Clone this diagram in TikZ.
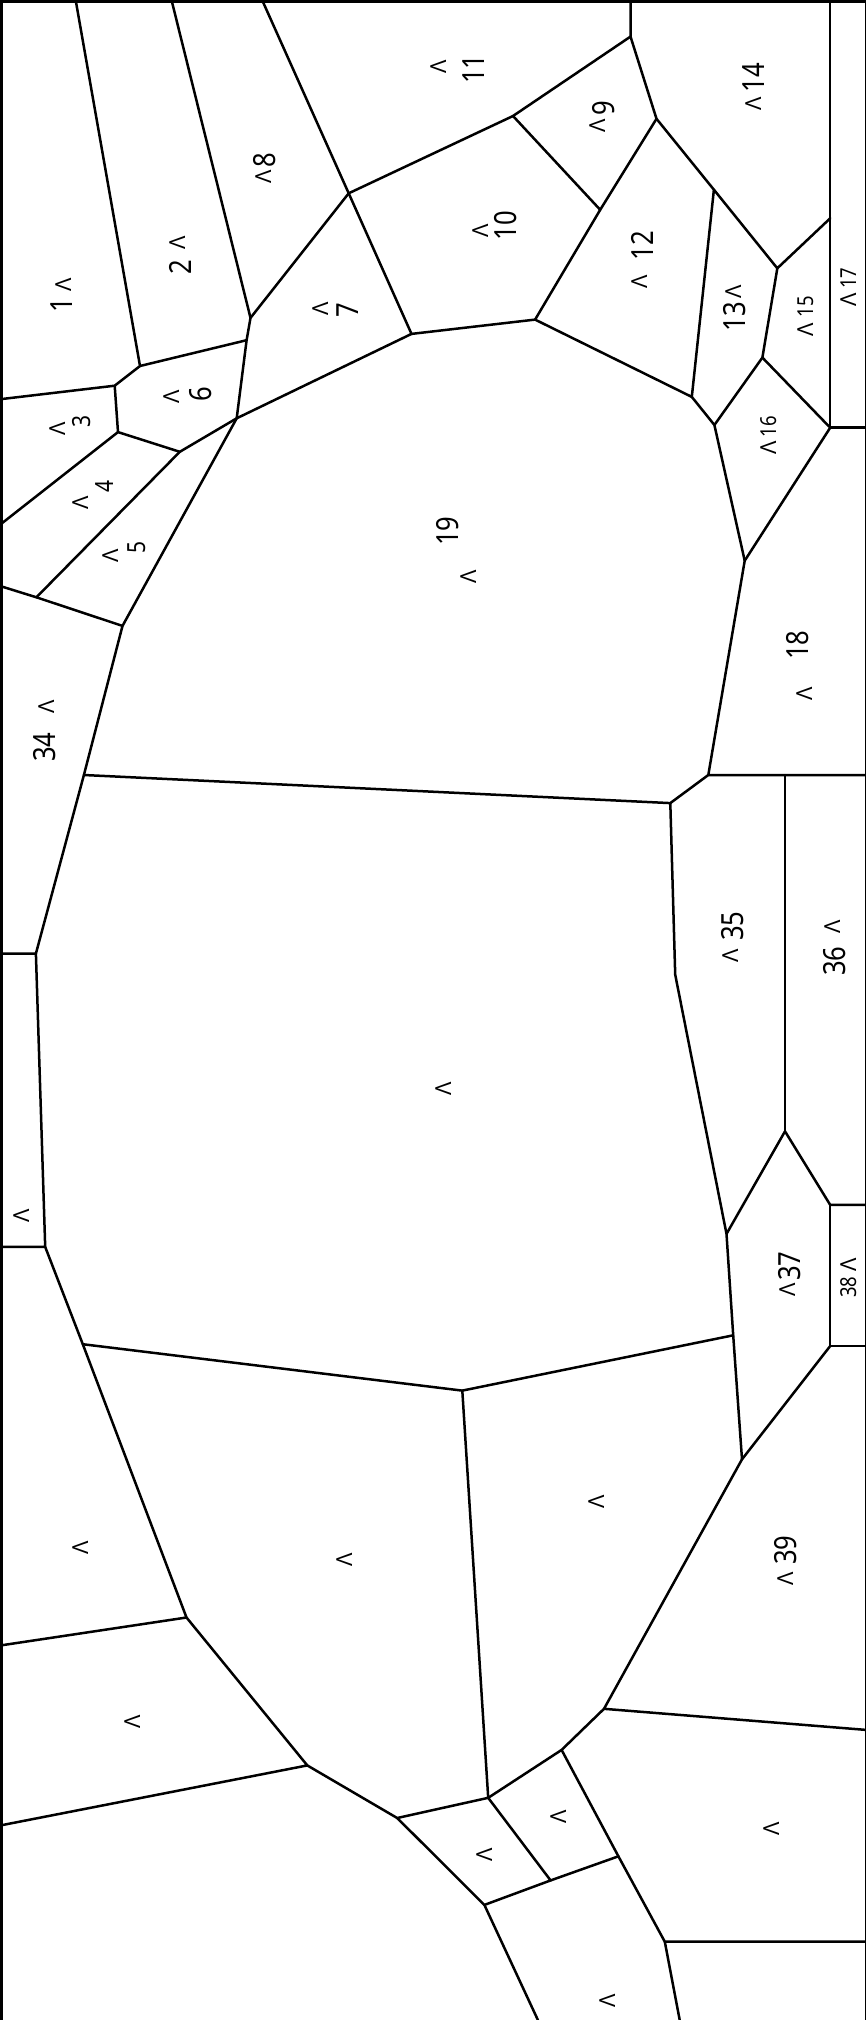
\documentclass[tikz,border=0pt]{standalone}
\usepackage{fontspec}
\setmainfont{Noto Sans}
\newfontfamily\digitfont[FakeStretch=0.84]{Noto Sans}
\definecolor{cline}{HTML}{000000}
\tikzset{
  edge/.style={draw=cline, line width=2.5pt, line cap=round, line join=round},
  frame/.style={draw=cline, line width=2.8pt},
  num/.style={rotate=90, inner sep=0pt, font=\digitfont\fontsize{30.5}{30.5}\selectfont},
  numsm/.style={rotate=90, inner sep=0pt, font=\digitfont\fontsize{25}{25}\selectfont},
  numxs/.style={rotate=90, inner sep=0pt, font=\digitfont\fontsize{22}{22}\selectfont},
  wedge/.style={rotate=90, inner sep=0pt, font=\fontsize{22}{22}\selectfont}
}
\begin{document}
\begin{tikzpicture}[x=1pt, y=-1pt]
\useasboundingbox (0,0) rectangle (865,2020);
% frame
\coordinate (tl) at (1.4,1.4); \coordinate (tr) at (866,1.4); \coordinate (bl) at (1.4,2022); \coordinate (br) at (866,2022);
\draw[frame] (br) -- (tr) -- (tl) -- (bl);
% points, upper part
\coordinate (t1) at (76,2); \coordinate (t2) at (172,2); \coordinate (t3) at (263,2);
\coordinate (t4) at (630.5,2); \coordinate (t5) at (830.2,2);
\coordinate (a1) at (140,366); \coordinate (a2) at (114.7,385.7); \coordinate (a3) at (2,399);
\coordinate (b) at (246.6,340.2); \coordinate (c) at (250.5,317.9); \coordinate (d) at (348.7,193.3);
\coordinate (e) at (513,116); \coordinate (f) at (630.5,36.6); \coordinate (g) at (656.5,118.8);
\coordinate (h) at (600.2,209.8); \coordinate (i) at (535.1,319.6); \coordinate (j) at (411.5,333.9);
\coordinate (k) at (236.7,418.3); \coordinate (l) at (118,432.1); \coordinate (m) at (179.8,451.8);
\coordinate (n) at (2,523.2); \coordinate (o) at (36.4,597.3); \coordinate (p) at (2,586.6);
\coordinate (q) at (122.5,625.9); \coordinate (r) at (713.9,189.7); \coordinate (s) at (777.3,268.3);
\coordinate (ss) at (830.2,218.3); \coordinate (u) at (762.4,357.6); \coordinate (v) at (691.8,396.9);
\coordinate (w) at (714.4,425); \coordinate (x) at (830.2,427.7); \coordinate (xr) at (865,427.7);
\coordinate (y) at (744.7,560.7);
% points, middle part
\coordinate (aa) at (83.9,775); \coordinate (bb) at (35.9,953.6); \coordinate (bbl) at (2,953.6);
\coordinate (dd) at (45.2,1246.9); \coordinate (ddl) at (2,1246.9); \coordinate (ff) at (82.8,1344.2);
\coordinate (gg) at (462.3,1390.6); \coordinate (hh) at (733.2,1335.3); \coordinate (ii) at (726.5,1233.9);
\coordinate (jj) at (675.2,974.6); \coordinate (kk) at (670.3,803.1); \coordinate (ll) at (708.3,775);
\coordinate (mm) at (785,775); \coordinate (llr) at (865,775); \coordinate (nn) at (785,1131.3);
\coordinate (oo) at (830.2,1204.9); \coordinate (oor) at (865,1204.9);
\coordinate (pp) at (830.2,1346); \coordinate (ppr) at (865,1346);
% points, lower part
\coordinate (qq) at (742,1459.3); \coordinate (rr) at (604,1708.8); \coordinate (rrr) at (865,1729.8);
\coordinate (ts) at (561.6,1749.9); \coordinate (tt) at (488.2,1797.8); \coordinate (uu) at (397.2,1818);
\coordinate (vv) at (307.3,1765.4); \coordinate (vvl) at (2,1825.1); \coordinate (ww) at (186.5,1617.5);
\coordinate (wwl) at (2,1645.2); \coordinate (xx) at (484.4,1904.9); \coordinate (yy) at (550.6,1880.4);
\coordinate (zz) at (618.4,1856.3); \coordinate (zr) at (664.8,1941.7); \coordinate (zrr) at (865,1941.7);
\coordinate (xb) at (537.9,2020); \coordinate (zb) at (679.7,2020);
% edges
\draw[edge] (t1) -- (a1) -- (a2) -- (a3); \draw[edge] (a1) -- (b);
\draw[edge] (t2) -- (c) -- (b) -- (k); \draw[edge] (t3) -- (d) -- (j) -- (k);
\draw[edge] (c) -- (d) -- (e) -- (f) -- (t4); \draw[edge] (f) -- (g) -- (h) -- (e);
\draw[edge] (h) -- (i) -- (j); \draw[edge] (a2) -- (l) -- (n);
\draw[edge] (l) -- (m) -- (k); \draw[edge] (m) -- (o) -- (p); \draw[edge] (o) -- (q) -- (k);
\draw[edge] (q) -- (aa) -- (bb) -- (bbl); \draw[edge] (bb) -- (dd) -- (ddl);
\draw[edge] (dd) -- (ff) -- (ww) -- (wwl); \draw[edge] (ww) -- (vv) -- (vvl);
\draw[edge] (vv) -- (uu) -- (tt) -- (gg) -- (ff); \draw[edge] (gg) -- (hh);
\draw[edge] (g) -- (r) -- (s) -- (ss); \draw[edge] (r) -- (v) -- (i); \draw[edge] (v) -- (w) -- (y);
\draw[edge] (s) -- (u) -- (w); \draw[edge] (u) -- (x) -- (y) -- (ll);
\draw[edge] (t5) -- (x) -- (xr);
\draw[edge] (aa) -- (kk) -- (ll) -- (llr); \draw[edge] (mm) -- (nn);
\draw[edge] (kk) -- (jj) -- (ii) -- (hh) -- (qq); \draw[edge] (ii) -- (nn) -- (oo) -- (oor);
\draw[edge] (oo) -- (pp) -- (ppr); \draw[edge] (pp) -- (qq) -- (rr) -- (rrr);
\draw[edge] (rr) -- (ts) -- (tt) -- (yy) -- (xx) -- (uu);
\draw[edge] (ts) -- (zz) -- (zr) -- (zrr); \draw[edge] (yy) -- (zz);
\draw[edge] (xx) -- (xb); \draw[edge] (zr) -- (zb);
% numbers
\node[num] (n1) at (62,305) {1}; \node[num] (n2) at (180.4,267) {2};
\node[numsm] (n3) at (81.7,421.7) {3}; \node[numsm] (n4) at (104.7,486) {4};
\node[numsm] (n5) at (137,547.3) {5}; \node[num] (n6) at (200.7,393.7) {6};
\node[num] (n7) at (347.5,310) {7}; \node[num] (n8) at (264.8,159.8) {8};
\node[num] (n9) at (604,108.5) {9}; \node[num] (n10) at (505.9,225.4) {10};
\node[num] (n11) at (473.3,69.2) {11}; \node[num] (n12) at (642.7,245.5) {12};
\node[num] (n13) at (735,316.7) {13}; \node[num] (n14) at (754,78) {14};
\node[numxs] (n15) at (805.7,306.7) {15}; \node[numxs] (n16) at (769,426.7) {16};
\node[numxs] (n17) at (848.3,278.3) {17}; \node[num] (n18) at (798,645) {18};
\node[num] (n19) at (448,531) {19}; \node[num] (n34) at (45,747) {34};
\node[num] (n35) at (732.6,926) {35}; \node[num] (n36) at (834.7,961) {36};
\node[num] (n37) at (790,1266) {37}; \node[numxs] (n38) at (848.5,1287) {38};
\node[num] (n39) at (786,1550) {39};
% wedges
\node[wedge] (w1) at (63.4,285) {Λ}; \node[wedge] (w2) at (178,242.4) {Λ};
\node[wedge] (w3) at (58,428.3) {Λ}; \node[wedge] (w4) at (81,502.7) {Λ};
\node[wedge] (w5) at (111,555.7) {Λ}; \node[wedge] (w6) at (172,397) {Λ};
\node[wedge] (w7) at (321,309) {Λ}; \node[wedge] (w8) at (263.7,177.2) {Λ};
\node[wedge] (w9) at (597.4,126.3) {Λ}; \node[wedge] (w10) at (480.5,231.3) {Λ};
\node[wedge] (w11) at (438.6,67) {Λ}; \node[wedge] (w12) at (640,281.3) {Λ};
\node[wedge] (w13) at (734,291.7) {Λ}; \node[wedge] (w14) at (754,103.6) {Λ};
\node[wedge] (w15) at (805.7,330) {Λ}; \node[wedge] (w16) at (769,448) {Λ};
\node[wedge] (w17) at (848.3,299.3) {Λ}; \node[wedge] (w18) at (805,694) {Λ};
\node[wedge] (w19) at (469,577) {Λ}; \node[wedge] (w34) at (46.4,706.4) {Λ};
\node[wedge] (w35) at (731,956) {Λ}; \node[wedge] (w36) at (833,927) {Λ};
\node[wedge] (w37) at (787.8,1290) {Λ}; \node[wedge] (w38) at (848.5,1264.7) {Λ};
\node[wedge] (w39) at (786,1579) {Λ};
\node[wedge] (wa) at (444,1089) {Λ}; \node[wedge] (wb) at (22,1216) {Λ};
\node[wedge] (wc) at (80.5,1547.5) {Λ}; \node[wedge] (wd) at (344.8,1559.4) {Λ};
\node[wedge] (we) at (597,1501.6) {Λ}; \node[wedge] (wf) at (132.4,1721.5) {Λ};
\node[wedge] (wg) at (558.8,1816.4) {Λ}; \node[wedge] (wh) at (485,1854.7) {Λ};
\node[wedge] (wi) at (771.2,1829) {Λ}; \node[wedge] (wj) at (608,2001) {Λ};
\end{tikzpicture}
\end{document}
